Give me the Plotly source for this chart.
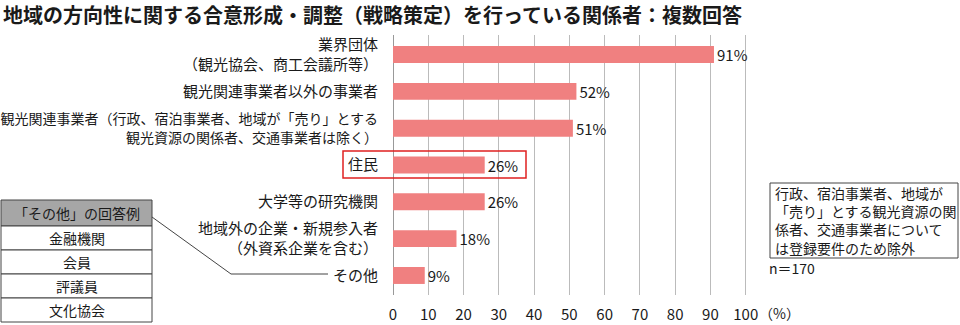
import plotly.graph_objects as go

# ---- data ----
categories = [
    "業界団体<br>（観光協会、商工会議所等）",
    "観光関連事業者以外の事業者",
    "観光関連事業者（行政、宿泊事業者、地域が「売り」とする<br>観光資源の関係者、交通事業者は除く）",
    "住民",
    "大学等の研究機関",
    "地域外の企業・新規参入者<br>（外資系企業を含む）",
    "その他",
]
values = [91, 52, 51, 26, 26, 18, 9]
value_labels = ["91%", "52%", "51%", "26%", "26%", "18%", "9%"]
x_ticks = [0, 10, 20, 30, 40, 50, 60, 70, 80, 90, 100]
title_text = "地域の方向性に関する合意形成・調整（戦略策定）を行っている関係者：複数回答"
other_header = "「その他」の回答例"
other_examples = ["金融機関", "会員", "評議員", "文化協会"]
note_lines = ["行政、宿泊事業者、地域が", "「売り」とする観光資源の関", "係者、交通事業者について", "は登録要件のため除外"]
n_text = "n＝170"

W, H = 960, 325
# plot area extends a bit past the 100 gridline so outside labels keep full size
L, R, T, B = 393, 179, 35, 30
PW, PH = W - L - R, H - T - B

def px(x):
    return (x - L) / PW

def py(y):
    return 1 - (y - T) / PH

FONT = "Noto Sans CJK JP, Noto Sans, sans-serif"
BAR = "#F08080"
TXT = "#1a1a1a"

# tick text: the long label is set slightly smaller so it fits the left margin
tick_text = [
    ('<span style="font-size:14px">' + c + '</span>') if len(c) > 40 else c
    for c in categories
]

fig = go.Figure()
fig.add_trace(go.Bar(
    x=values, y=categories, orientation="h",
    marker=dict(color=BAR, line=dict(width=0)),
    width=0.46,
    text=value_labels, textposition="outside", cliponaxis=False,
    constraintext="none",
    textfont=dict(size=15, color=TXT, family=FONT),
    hoverinfo="skip",
))

shapes = []
annotations = []

# title
annotations.append(dict(
    text="<b>" + title_text + "</b>", xref="paper", yref="paper",
    x=px(2), y=py(14.5), xanchor="left", yanchor="middle", showarrow=False,
    borderpad=0,
    font=dict(size=20, color=TXT, family=FONT),
))

# red box around 住民
shapes.append(dict(type="rect", xref="paper", yref="paper",
                   x0=px(343), x1=px(526), y0=py(151), y1=py(178),
                   line=dict(color="#e02020", width=1.5), fillcolor="rgba(0,0,0,0)"))

# "その他" table
tx0, tx1 = 1, 152
rows_y = [200, 226, 250, 274, 298, 322]
shapes.append(dict(type="rect", xref="paper", yref="paper",
                   x0=px(tx0), x1=px(tx1), y0=py(rows_y[0]), y1=py(rows_y[1]),
                   line=dict(color="#444", width=1), fillcolor="#A6A6A6"))
for i in range(1, len(rows_y) - 1):
    shapes.append(dict(type="rect", xref="paper", yref="paper",
                       x0=px(tx0), x1=px(tx1), y0=py(rows_y[i]), y1=py(rows_y[i + 1]),
                       line=dict(color="#444", width=1), fillcolor="white"))
row_texts = [other_header] + other_examples
for i, t in enumerate(row_texts):
    annotations.append(dict(
        text=t, xref="paper", yref="paper",
        x=px((tx0 + tx1) / 2), y=py((rows_y[i] + rows_y[i + 1]) / 2),
        xanchor="center", yanchor="middle", showarrow=False,
        font=dict(size=14, color=TXT, family=FONT),
    ))

# connector line
shapes.append(dict(type="path", xref="paper", yref="paper",
                   path=f"M {px(152)},{py(217)} L {px(231)},{py(274)} L {px(328)},{py(274)}",
                   line=dict(color="#444", width=1)))

# note box
shapes.append(dict(type="rect", xref="paper", yref="paper",
                   x0=px(770), x1=px(958), y0=py(183), y1=py(258),
                   line=dict(color="#444", width=1), fillcolor="white"))
annotations.append(dict(
    text="<br>".join(note_lines), xref="paper", yref="paper",
    x=px(773), y=py(220.5), xanchor="left", yanchor="middle", align="left",
    showarrow=False, font=dict(size=14, color=TXT, family=FONT),
))
annotations.append(dict(
    text=n_text, xref="paper", yref="paper",
    x=px(767), y=py(268), xanchor="left", yanchor="middle",
    showarrow=False, font=dict(size=14, color=TXT, family=FONT),
))
annotations.append(dict(
    text="（%）", xref="paper", yref="paper",
    x=px(757), y=py(313), xanchor="left", yanchor="middle",
    showarrow=False, font=dict(size=14, color=TXT, family=FONT),
))

fig.update_layout(
    width=W, height=H,
    margin=dict(l=L, r=R, t=T, b=B, autoexpand=False),
    paper_bgcolor="white", plot_bgcolor="white",
    showlegend=False,
    font=dict(family=FONT, color=TXT),
    shapes=shapes, annotations=annotations,
    xaxis=dict(range=[0, 110], tickvals=x_ticks, ticktext=[str(v) for v in x_ticks],
               showgrid=True, gridcolor="#BBBBBB", gridwidth=1,
               zeroline=True, zerolinecolor="#999999", zerolinewidth=1,
               showline=False, ticks="", ticklabelstandoff=9, automargin=False,
               tickfont=dict(size=15, color=TXT, family=FONT),
               fixedrange=True),
    yaxis=dict(categoryorder="array", categoryarray=categories,
               tickvals=categories, ticktext=tick_text,
               range=[6.53, -0.53], showgrid=False, zeroline=False, showline=False,
               ticks="", ticklabelstandoff=14, automargin=False,
               tickfont=dict(size=15, color=TXT, family=FONT), fixedrange=True),
)

fig.write_html("out.html")
